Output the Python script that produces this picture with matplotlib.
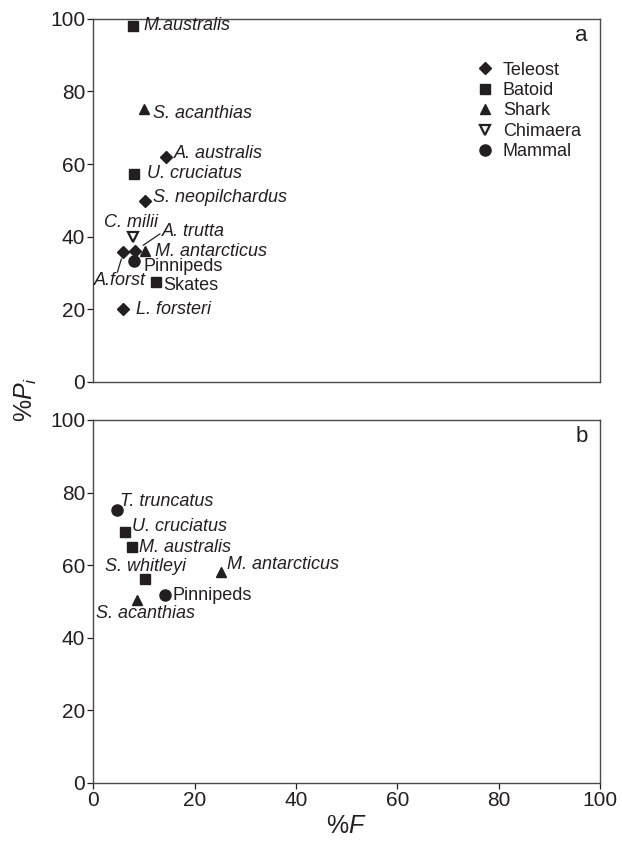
import matplotlib.pyplot as plt

plt.rcParams['font.family'] = ['Liberation Sans', 'DejaVu Sans']
plt.rcParams['mathtext.fontset'] = 'custom'
plt.rcParams['mathtext.it'] = 'Liberation Sans:italic'
ink = '#231f20'

# panel a
a_species = ['M.australis', 'S. acanthias', 'A. australis', 'U. cruciatus', 'S. neopilchardus',
             'C. milii', 'A.forst', 'A. trutta', 'M. antarcticus', 'Pinnipeds', 'Skates', 'L. forsteri']
a_group = ['Batoid', 'Shark', 'Teleost', 'Batoid', 'Teleost',
           'Chimaera', 'Teleost', 'Teleost', 'Shark', 'Mammal', 'Batoid', 'Teleost']
a_F = [7.9, 10.0, 14.3, 8.0, 10.2, 7.9, 5.9, 8.2, 10.2, 8.0, 12.3, 5.9]
a_P = [98.1, 75.1, 61.8, 57.3, 49.8, 40.0, 35.7, 36.1, 36.1, 33.4, 27.6, 20.0]

# panel b
b_species = ['T. truncatus', 'U. cruciatus', 'M. australis', 'S. whitleyi',
             'M. antarcticus', 'Pinnipeds', 'S. acanthias']
b_group = ['Mammal', 'Batoid', 'Batoid', 'Batoid', 'Shark', 'Mammal', 'Shark']
b_F = [4.6, 6.2, 7.7, 10.2, 25.1, 14.1, 8.6]
b_P = [75.3, 69.0, 64.9, 56.3, 58.0, 51.7, 50.3]

groups = ['Teleost', 'Batoid', 'Shark', 'Chimaera', 'Mammal']
ticks = [0, 20, 40, 60, 80, 100]

# label placement (pixels from the point: right, down)
a_offsets = [(10, 0), (9, 4), (8, -4), (13, 0), (8, -4), (-29, -14),
             (-29, 28), (27, -19), (10, 1), (9, 6), (7, 4), (13, 0)]
b_offsets = [(3, -8), (7, -6), (7, 0), (-40, -12), (6, -8), (8, 0), (-41, 13)]

marker_style = {
    'Teleost': dict(marker='D', ms=6.5, mfc=ink, mec=ink),
    'Batoid': dict(marker='s', ms=7, mfc=ink, mec=ink),
    'Shark': dict(marker='^', ms=7.5, mfc=ink, mec=ink),
    'Chimaera': dict(marker='v', ms=7, mfc='white', mec=ink, mew=1.6),
    'Mammal': dict(marker='o', ms=8, mfc=ink, mec=ink),
}
plain = {'Pinnipeds', 'Skates'}

fig = plt.figure(figsize=(6.22, 8.46), dpi=100)
ax1 = fig.add_axes([0.1503, 0.5485, 0.8143, 0.4294])
ax2 = fig.add_axes([0.1503, 0.0745, 0.8143, 0.4291])


def draw(ax, species, group, F, P, offsets):
    for s, g, f, p, (dx, dy) in zip(species, group, F, P, offsets):
        ax.plot(f, p, ls='none', **marker_style[g])
        style = 'normal' if s in plain else 'italic'
        ax.annotate(s, (f, p), xytext=(dx, -dy), textcoords='offset pixels',
                    ha='left', va='center', fontsize=13, style=style, color=ink)


draw(ax1, a_species, a_group, a_F, a_P, a_offsets)
draw(ax2, b_species, b_group, b_F, b_P, b_offsets)

# leader lines in panel a
i = a_species.index('A. trutta')
ax1.annotate('', (a_F[i], a_P[i]), xytext=(25, 17), textcoords='offset pixels',
             arrowprops=dict(arrowstyle='-', color=ink, lw=0.9, shrinkA=0, shrinkB=7))
i = a_species.index('A.forst')
ax1.annotate('', (a_F[i], a_P[i]), xytext=(-6, -20), textcoords='offset pixels',
             arrowprops=dict(arrowstyle='-', color=ink, lw=0.9, shrinkA=0, shrinkB=5))

# legend
for g in groups:
    ax1.plot([], [], ls='none', label=g, **marker_style[g])
ax1.legend(loc='upper left', bbox_to_anchor=(0.755, 0.882), frameon=False,
           fontsize=13, handlelength=1.0, handletextpad=0.5, labelspacing=0.19,
           borderpad=0, borderaxespad=0, labelcolor=ink)

for ax, tag in [(ax1, 'a'), (ax2, 'b')]:
    ax.set_xlim(0, 100)
    ax.set_ylim(0, 100)
    ax.set_xticks(ticks)
    ax.set_yticks(ticks)
    ax.tick_params(direction='out', length=4, width=0.9, color=ink,
                   labelsize=15, labelcolor=ink, pad=2)
    for sp in ax.spines.values():
        sp.set_color('#4a4a4a')
        sp.set_linewidth(1.0)
    ax.text(0.9635, 0.955, tag, transform=ax.transAxes, ha='center', va='center',
            fontsize=16, color=ink)

ax1.tick_params(axis='x', length=0, labelbottom=False)

fig.text(0.042, 0.528, '%$P_i$', rotation=90, ha='center', va='center',
         fontsize=18, color=ink)
ax2.set_xlabel('%$F$', fontsize=18, color=ink, labelpad=3)

fig.savefig('out.png', dpi=100)
